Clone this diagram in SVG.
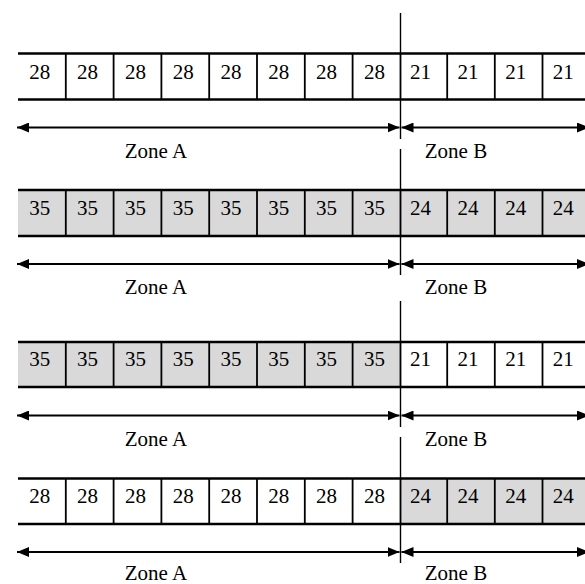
<svg xmlns="http://www.w3.org/2000/svg" width="585" height="584" viewBox="0 0 585 584">
<defs>
<marker id="ah" viewBox="0 0 12 10" refX="12" refY="5" markerWidth="12" markerHeight="10" markerUnits="userSpaceOnUse" orient="auto-start-reverse">
<path d="M0,0 L12,5 L0,10 Z" fill="#000"/>
</marker>
</defs>
<style>
.w{fill:#fff}
.g{fill:#d9d9d9}
.h{stroke:#000;stroke-width:2.6;fill:none}
.v{stroke:#000;stroke-width:1.8;fill:none}
.d{stroke:#000;stroke-width:1.4;fill:none}
.a{stroke:#000;stroke-width:2;fill:none;marker-start:url(#ah);marker-end:url(#ah)}
text{font-family:"Liberation Serif","Times New Roman",serif;font-size:21px;fill:#000;text-anchor:middle}
</style>

<g id="connectors">
<line class="d" x1="400.5" y1="13" x2="400.5" y2="139"/>
<line class="d" x1="400.5" y1="149" x2="400.5" y2="275"/>
<line class="d" x1="400.5" y1="301" x2="400.5" y2="427"/>
<line class="d" x1="400.5" y1="437" x2="400.5" y2="563"/>
<line class="a" x1="17" y1="127.5" x2="399.5" y2="127.5"/>
<line class="a" x1="401.5" y1="127.5" x2="589" y2="127.5"/>
<line class="a" x1="17" y1="264" x2="399.5" y2="264"/>
<line class="a" x1="401.5" y1="264" x2="589" y2="264"/>
<line class="a" x1="17" y1="415.5" x2="399.5" y2="415.5"/>
<line class="a" x1="401.5" y1="415.5" x2="589" y2="415.5"/>
<line class="a" x1="17" y1="552" x2="399.5" y2="552"/>
<line class="a" x1="401.5" y1="552" x2="589" y2="552"/>
</g>

<g id="row1">
<rect class="w" x="18" y="53.5" width="567" height="46"/>
<line class="h" x1="18" y1="53.5" x2="585" y2="53.5"/>
<line class="h" x1="18" y1="99.5" x2="585" y2="99.5"/>
<path class="v" d="M65.8,53.5V99.5M113.6,53.5V99.5M161.4,53.5V99.5M209.2,53.5V99.5M257,53.5V99.5M304.8,53.5V99.5M352.6,53.5V99.5M400.5,53.5V99.5M447.2,53.5V99.5M494.8,53.5V99.5M542.5,53.5V99.5"/>
<text x="39.8" y="78.5">28</text><text x="87.6" y="78.5">28</text><text x="135.4" y="78.5">28</text><text x="183.2" y="78.5">28</text><text x="231" y="78.5">28</text><text x="278.8" y="78.5">28</text><text x="326.6" y="78.5">28</text><text x="374.4" y="78.5">28</text>
<text x="420.5" y="78.5">21</text><text x="468" y="78.5">21</text><text x="515.7" y="78.5">21</text><text x="563.3" y="78.5">21</text>
</g>
<g id="zones1">
<text x="156" y="158.3">Zone A</text>
<text x="456" y="158.3">Zone B</text>
</g>

<g id="row2">
<rect class="g" x="18" y="190" width="567" height="46"/>
<line class="h" x1="18" y1="190" x2="585" y2="190"/>
<line class="h" x1="18" y1="236" x2="585" y2="236"/>
<path class="v" d="M65.8,190V236M113.6,190V236M161.4,190V236M209.2,190V236M257,190V236M304.8,190V236M352.6,190V236M400.5,190V236M447.2,190V236M494.8,190V236M542.5,190V236"/>
<text x="39.8" y="214.5">35</text><text x="87.6" y="214.5">35</text><text x="135.4" y="214.5">35</text><text x="183.2" y="214.5">35</text><text x="231" y="214.5">35</text><text x="278.8" y="214.5">35</text><text x="326.6" y="214.5">35</text><text x="374.4" y="214.5">35</text>
<text x="420.5" y="214.5">24</text><text x="468" y="214.5">24</text><text x="515.7" y="214.5">24</text><text x="563.3" y="214.5">24</text>
</g>
<g id="zones2">
<text x="156" y="293.5">Zone A</text>
<text x="456" y="293.5">Zone B</text>
</g>

<g id="row3">
<rect class="g" x="18" y="342" width="382.5" height="45"/>
<rect class="w" x="400.5" y="342" width="184.5" height="45"/>
<line class="h" x1="18" y1="342" x2="585" y2="342"/>
<line class="h" x1="18" y1="387" x2="585" y2="387"/>
<path class="v" d="M65.8,342V387M113.6,342V387M161.4,342V387M209.2,342V387M257,342V387M304.8,342V387M352.6,342V387M400.5,342V387M447.2,342V387M494.8,342V387M542.5,342V387"/>
<text x="39.8" y="366">35</text><text x="87.6" y="366">35</text><text x="135.4" y="366">35</text><text x="183.2" y="366">35</text><text x="231" y="366">35</text><text x="278.8" y="366">35</text><text x="326.6" y="366">35</text><text x="374.4" y="366">35</text>
<text x="420.5" y="366">21</text><text x="468" y="366">21</text><text x="515.7" y="366">21</text><text x="563.3" y="366">21</text>
</g>
<g id="zones3">
<text x="156" y="445.7">Zone A</text>
<text x="456" y="445.7">Zone B</text>
</g>

<g id="row4">
<rect class="w" x="18" y="478.5" width="382.5" height="45.5"/>
<rect class="g" x="400.5" y="478.5" width="184.5" height="45.5"/>
<line class="h" x1="18" y1="478.5" x2="585" y2="478.5"/>
<line class="h" x1="18" y1="524" x2="585" y2="524"/>
<path class="v" d="M65.8,478.5V524M113.6,478.5V524M161.4,478.5V524M209.2,478.5V524M257,478.5V524M304.8,478.5V524M352.6,478.5V524M400.5,478.5V524M447.2,478.5V524M494.8,478.5V524M542.5,478.5V524"/>
<text x="39.8" y="503">28</text><text x="87.6" y="503">28</text><text x="135.4" y="503">28</text><text x="183.2" y="503">28</text><text x="231" y="503">28</text><text x="278.8" y="503">28</text><text x="326.6" y="503">28</text><text x="374.4" y="503">28</text>
<text x="420.5" y="503">24</text><text x="468" y="503">24</text><text x="515.7" y="503">24</text><text x="563.3" y="503">24</text>
</g>
<g id="zones4">
<text x="156" y="580">Zone A</text>
<text x="456" y="580">Zone B</text>
</g>
</svg>
